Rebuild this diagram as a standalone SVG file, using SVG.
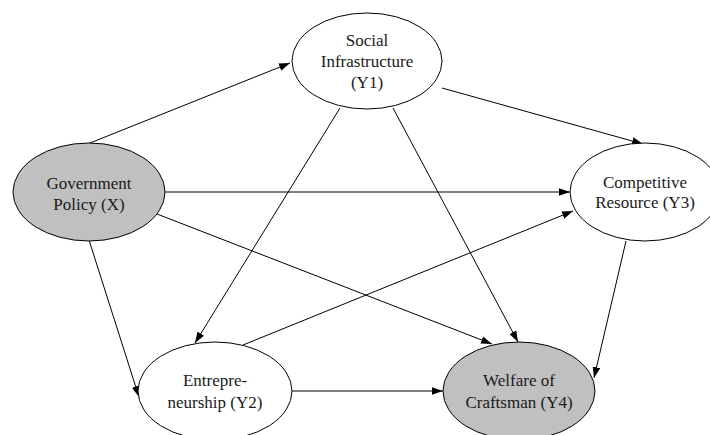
<svg xmlns="http://www.w3.org/2000/svg" width="710" height="435" viewBox="0 0 710 435">
<style>
.node ellipse{stroke:#000;stroke-width:1;fill:#fff}
.node.g ellipse{fill:#c0c0c0}
.node text{font-family:"Liberation Serif","Times New Roman",serif;font-size:17px;fill:#1a1a1a;text-anchor:middle}
.edges line{stroke:#000;stroke-width:1;fill:none;marker-end:url(#arr)}
</style>
<defs>
<marker id="arr" markerUnits="userSpaceOnUse" markerWidth="11" markerHeight="8" refX="10" refY="3.5" orient="auto" viewBox="0 0 10 7">
<path d="M0,0 L10,3.5 L0,7 z" fill="#000"/>
</marker>
</defs>
<rect width="710" height="435" fill="#fff"/>
<g class="edges" id="connectors">
<line x1="90" y1="143" x2="290" y2="63"/>
<line x1="165" y1="192" x2="570" y2="192"/>
<line x1="157" y1="214" x2="492" y2="344"/>
<line x1="89" y1="240" x2="139" y2="397"/>
<line x1="442" y1="88" x2="643" y2="144"/>
<line x1="340" y1="108" x2="195" y2="343"/>
<line x1="393" y1="108" x2="518" y2="342"/>
<line x1="243" y1="345" x2="573" y2="211"/>
<line x1="292" y1="391" x2="443" y2="391"/>
<line x1="626" y1="241" x2="594" y2="378"/>
</g>
<g class="node" id="Y1">
<ellipse cx="367" cy="61" rx="75" ry="48"/>
<text x="367" y="46">Social</text>
<text x="367" y="67">Infrastructure</text>
<text x="367" y="88">(Y1)</text>
</g>
<g class="node g" id="X">
<ellipse cx="89" cy="192" rx="76" ry="49"/>
<text x="89" y="189">Government</text>
<text x="89" y="210">Policy (X)</text>
</g>
<g class="node" id="Y3">
<ellipse cx="645" cy="192" rx="75" ry="49"/>
<text x="645" y="188">Competitive</text>
<text x="645" y="208">Resource (Y3)</text>
</g>
<g class="node" id="Y2">
<ellipse cx="215" cy="391" rx="77" ry="49"/>
<text x="215" y="386">Entrepre-</text>
<text x="215" y="408">neurship (Y2)</text>
</g>
<g class="node g" id="Y4">
<ellipse cx="519" cy="391" rx="76" ry="49"/>
<text x="519" y="386">Welfare of</text>
<text x="519" y="408">Craftsman (Y4)</text>
</g>
</svg>
